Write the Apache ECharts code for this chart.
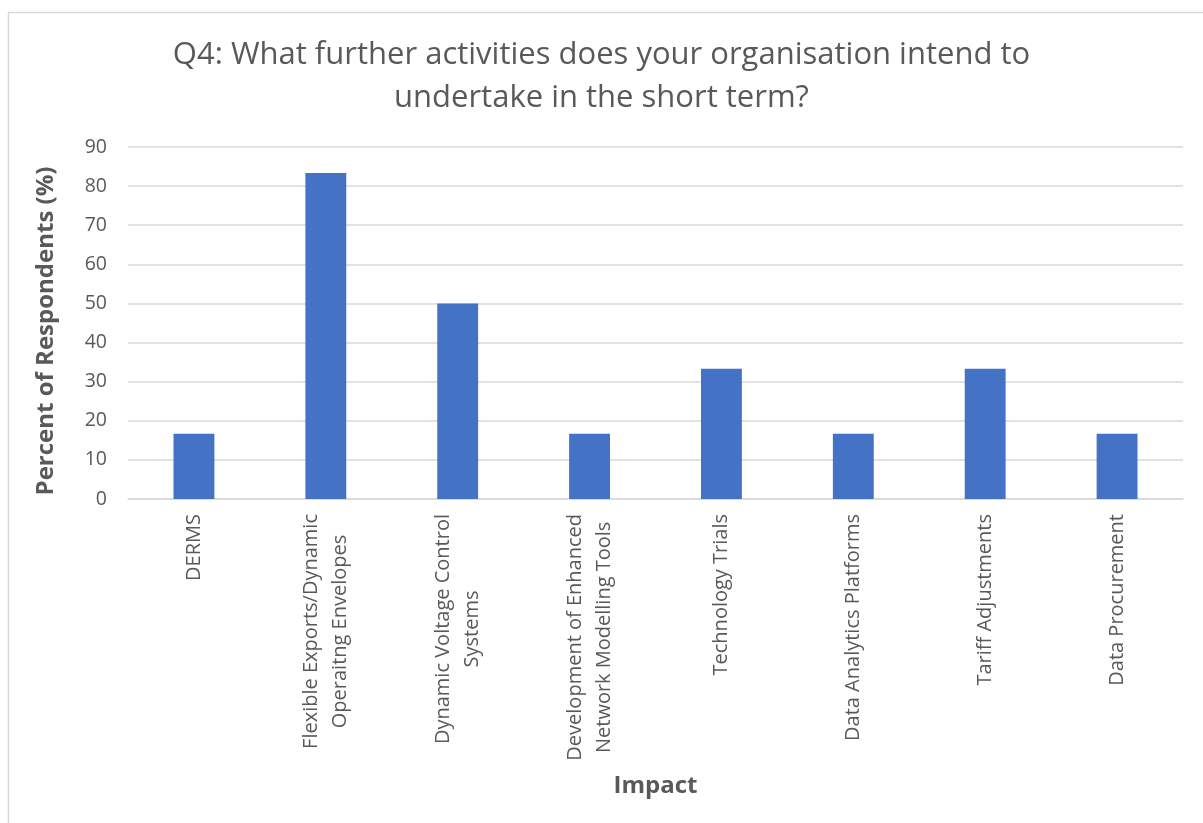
<!DOCTYPE html>
<html>
<head>
<meta charset="utf-8">
<title>Q4 short-term activities</title>
<script src="https://cdn.jsdelivr.net/npm/echarts@6/dist/echarts.min.js"></script>
<style>
  html, body { margin: 0; padding: 0; background: #ffffff; }
  #chart { width: 1203px; height: 823px; }
</style>
</head>
<body>
<div id="chart"></div>
<script>
// Survey answers: share of respondents planning each activity
const categories = [
  'DERMS',
  'Flexible Exports/Dynamic\nOperaitng Envelopes',
  'Dynamic Voltage Control\nSystems',
  'Development of Enhanced\nNetwork Modelling Tools',
  'Technology Trials',
  'Data Analytics Platforms',
  'Tariff Adjustments',
  'Data Procurement'
];
const percentValues = [16.67, 83.33, 50, 16.67, 33.33, 16.67, 33.33, 16.67];
const yTicks = { min: 0, max: 90, interval: 10 };

const FONT = '"Open Sans", "DejaVu Sans", sans-serif';
const GREY = '#595959';

const chart = echarts.init(document.getElementById('chart'), null, { renderer: 'canvas' });

chart.setOption({
  animation: false,
  backgroundColor: '#ffffff',
  graphic: [{
    type: 'rect',
    shape: { x: 8.5, y: 12.5, width: 1300, height: 900 },
    style: { fill: 'none', stroke: '#d9d9d9', lineWidth: 1.5 },
    silent: true
  }],
  title: {
    text: 'Q4: What further activities does your organisation intend to\nundertake in the short term?',
    left: 'center',
    top: 29,
    padding: [5, 0, 5, 14],
    textStyle: {
      fontFamily: FONT,
      fontWeight: 'normal',
      fontSize: 31,
      lineHeight: 43,
      color: GREY
    }
  },
  grid: { left: 128, right: 20, top: 147, bottom: 324 },
  xAxis: {
    type: 'category',
    data: categories,
    name: 'Impact',
    nameLocation: 'middle',
    nameGap: 275,
    nameTextStyle: { fontFamily: FONT, fontWeight: 'bold', fontSize: 24, color: GREY },
    axisLine: { show: true, lineStyle: { color: '#d9d9d9', width: 1.5 } },
    axisTick: { show: false },
    axisLabel: {
      interval: 0,
      rotate: 90,
      margin: 15,
      color: GREY,
      fontFamily: FONT,
      fontSize: 20,
      formatter: function (v) {
        return v.split('\n').map(function (s) { return '{c|' + s + '}'; }).join('\n');
      },
      rich: {
        c: { align: 'center', fontFamily: FONT, fontSize: 20, color: GREY, lineHeight: 29 }
      }
    }
  },
  yAxis: {
    type: 'value',
    min: yTicks.min,
    max: yTicks.max,
    interval: yTicks.interval,
    name: 'Percent of Respondents (%)',
    nameLocation: 'middle',
    nameGap: 70,
    nameTextStyle: { fontFamily: FONT, fontWeight: 'bold', fontSize: 24, color: GREY, padding: [0, 16, 0, 0] },
    axisLine: { show: false },
    axisTick: { show: false },
    axisLabel: { color: GREY, fontFamily: FONT, fontSize: 19.5, margin: 21 },
    splitLine: { lineStyle: { color: '#d9d9d9', width: 1.5 } }
  },
  series: [{
    type: 'bar',
    data: percentValues,
    barWidth: '31%',
    itemStyle: { color: '#4472c4' }
  }]
});
</script>
</body>
</html>
